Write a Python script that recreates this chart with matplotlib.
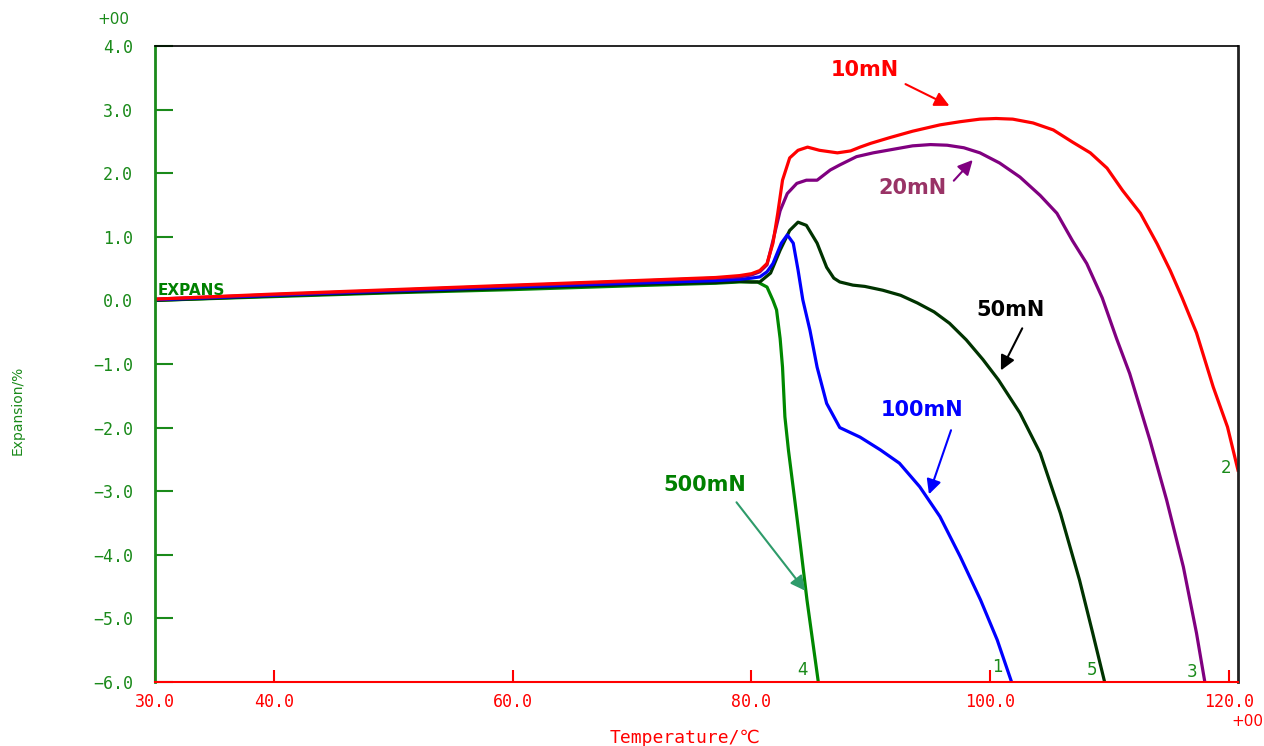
import matplotlib
matplotlib.use('Agg')
import matplotlib.pyplot as plt

# temperature (deg C) / expansion (%)
temp_10 = [30, 40, 50, 60, 70, 77, 79.0, 80.0, 80.7, 81.3, 81.8, 82.2, 82.6, 83.2, 83.9, 84.7, 85.7, 87.2,
           88.3, 89.1, 90.0, 91.6, 93.5, 95.8, 97.5, 99.15, 100.5, 101.9, 103.6, 105.3, 106.9, 108.4, 109.8,
           111.1, 112.6, 114.0, 115.1, 116.1, 117.3, 118.7, 119.9, 120.78]
exp_10 = [0.02, 0.10, 0.17, 0.24, 0.31, 0.36, 0.39, 0.42, 0.47, 0.58, 0.90, 1.37, 1.89, 2.24, 2.36, 2.41,
          2.36, 2.32, 2.35, 2.41, 2.47, 2.56, 2.66, 2.76, 2.81, 2.85, 2.86, 2.85, 2.79, 2.68, 2.49, 2.32, 2.08,
          1.73, 1.37, 0.89, 0.47, 0.04, -0.51, -1.36, -1.99, -2.67]

temp_20 = [30, 40, 50, 60, 70, 77, 79.0, 80.0, 80.7, 81.3, 81.8, 82.4, 83.0, 83.8, 84.6, 85.5, 86.6, 87.4,
           88.8, 90.2, 92.0, 93.5, 95.0, 96.4, 97.8, 99.15, 100.8, 102.5, 104.2, 105.6, 106.9, 108.1, 109.4,
           110.6, 111.7, 113.4, 114.8, 116.2, 117.3, 118.0]
exp_20 = [0.02, 0.09, 0.16, 0.23, 0.30, 0.35, 0.37, 0.40, 0.45, 0.56, 0.94, 1.41, 1.68, 1.84, 1.89, 1.89,
          2.05, 2.13, 2.26, 2.32, 2.38, 2.43, 2.45, 2.44, 2.40, 2.32, 2.16, 1.94, 1.65, 1.37, 0.94, 0.58, 0.04,
          -0.60, -1.15, -2.20, -3.14, -4.19, -5.23, -6.0]

temp_50 = [30, 40, 50, 60, 70, 77, 79.0, 80.0, 80.7, 81.6, 82.4, 83.2, 83.9, 84.6, 85.5, 86.3, 86.9, 87.4,
           88.5, 89.5, 91.0, 92.5, 93.9, 95.3, 96.6, 98.0, 99.4, 100.7, 102.5, 104.2, 105.9, 107.5, 108.6,
           109.6]
exp_50 = [0.0, 0.07, 0.13, 0.19, 0.25, 0.28, 0.30, 0.29, 0.29, 0.43, 0.79, 1.10, 1.23, 1.18, 0.90, 0.52,
          0.35, 0.29, 0.24, 0.22, 0.16, 0.08, -0.04, -0.18, -0.36, -0.62, -0.93, -1.25, -1.77, -2.40, -3.35,
          -4.40, -5.23, -6.0]

temp_100 = [30, 40, 50, 60, 70, 77, 79.0, 80.0, 80.7, 81.3, 81.8, 82.5, 83.0, 83.5, 83.9, 84.3, 84.9, 85.5,
            86.3, 87.4, 89.1, 90.8, 92.4, 94.1, 95.8, 97.5, 99.2, 100.6, 101.8]
exp_100 = [0.01, 0.08, 0.15, 0.21, 0.27, 0.31, 0.33, 0.35, 0.37, 0.45, 0.58, 0.90, 1.03, 0.90, 0.48, 0.01,
           -0.47, -1.05, -1.62, -2.0, -2.15, -2.35, -2.56, -2.93, -3.40, -4.03, -4.71, -5.34, -6.0]

temp_500 = [30, 40, 50, 60, 70, 77, 79.0, 80.5, 81.3, 81.8, 82.1, 82.4, 82.6, 82.8, 83.1, 83.6, 84.1, 84.65,
            85.6]
exp_500 = [0.0, 0.06, 0.12, 0.17, 0.23, 0.27, 0.29, 0.29, 0.21, 0.0, -0.15, -0.60, -1.05, -1.83, -2.36, -3.1,
           -3.85, -4.71, -6.0]

x_ticks = [30, 40, 60, 80, 100, 120]
x_ticklabels = ['30.0', '40.0', '60.0', '80.0', '100.0', '120.0']
y_ticks = [4, 3, 2, 1, 0, -1, -2, -3, -4, -5, -6]
y_ticklabels = ['4.0', '3.0', '2.0', '1.0', '0.0', '\u22121.0', '\u22122.0', '\u22123.0', '\u22124.0',
                '\u22125.0', '\u22126.0']

RED = '#ff0000'
GRN = '#1a8a1a'
mono = ['DejaVu Sans Mono', 'DejaVu Sans']

fig = plt.figure(figsize=(12.64, 7.46), dpi=100)
ax = fig.add_axes([155 / 1264, 1 - 682 / 746, (1238 - 155) / 1264, (682 - 46) / 746])

ax.plot(temp_500, exp_500, color='#008800', lw=2.3)
ax.plot(temp_50, exp_50, color='#003300', lw=2.3)
ax.plot(temp_100, exp_100, color='#0000ff', lw=2.3)
ax.plot(temp_20, exp_20, color='#800080', lw=2.3)
ax.plot(temp_10, exp_10, color=RED, lw=2.3)

ax.set_xlim(30, 120.78)
ax.set_ylim(-6, 4)

ax.spines['left'].set_color(GRN)
ax.spines['left'].set_linewidth(2)
ax.spines['bottom'].set_color(RED)
ax.spines['bottom'].set_linewidth(1.5)
ax.spines['top'].set_color('black')
ax.spines['top'].set_linewidth(1.2)
ax.spines['right'].set_color('#222222')
ax.spines['right'].set_linewidth(2)

ax.set_xticks(x_ticks)
ax.set_xticklabels(x_ticklabels, family=mono, fontsize=12, color=RED)
ax.set_yticks(y_ticks)
ax.set_yticklabels(y_ticklabels, family=mono, fontsize=12, color=GRN)
ax.tick_params(axis='x', direction='in', length=9, width=1.5, color=RED, pad=8)
ax.tick_params(axis='y', direction='in', length=13, width=1.5, color=GRN, pad=16)

fig.text(18 / 1264, 1 - 410 / 746, 'Expansion/%', rotation=90, ha='center', va='center',
         color=GRN, fontsize=10, family=['DejaVu Sans'])
fig.text(685 / 1264, 1 - 738 / 746, 'Temperature/\u2103', ha='center', va='center',
         color=RED, fontsize=13, family=mono)
fig.text(113 / 1264, 1 - 20 / 746, '+00', ha='center', va='center', color=GRN, fontsize=11)
fig.text(1247 / 1264, 1 - 722 / 746, '+00', ha='center', va='center', color=RED, fontsize=11)

ax.text(30.2, 0.03, 'EXPANS', color='#008000', fontsize=11, fontweight='bold', ha='left', va='bottom')

# curve labels with arrows
labels = [
    ('10mN', (89.5, 3.62), (92.7, 3.42), (96.8, 3.04), RED, RED),
    ('20mN', (93.5, 1.77), (96.8, 1.85), (98.7, 2.24), '#993366', '#800080'),
    ('50mN', (101.7, -0.15), (102.8, -0.40), (100.8, -1.14), 'black', 'black'),
    ('100mN', (94.3, -1.72), (96.8, -2.0), (94.8, -3.09), '#0000ff', '#0000ff'),
    ('500mN', (76.1, -2.9), (78.6, -3.14), (84.65, -4.6), '#008000', '#2e9b6a'),
]
for txt, pos, start, end, tcol, acol in labels:
    ax.text(pos[0], pos[1], txt, color=tcol, fontsize=15, fontweight='bold', ha='center', va='center')
    ax.annotate('', xy=end, xytext=start,
                arrowprops=dict(arrowstyle='-|>', color=acol, lw=1.5, mutation_scale=22))

# curve numbers
for num, (tx, ty) in [('4', (84.3, -5.81)), ('1', (100.6, -5.77)), ('5', (108.5, -5.81)),
                      ('3', (116.9, -5.84)), ('2', (119.8, -2.63))]:
    ax.text(tx, ty, num, color=GRN, fontsize=12, ha='center', va='center')

plt.savefig('out.png', dpi=100)
